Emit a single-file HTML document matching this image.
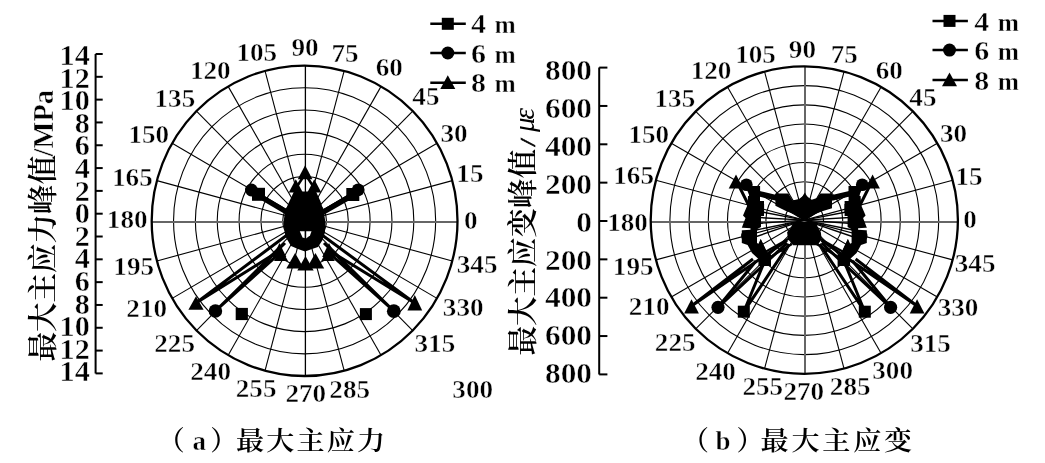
<!DOCTYPE html>
<html><head><meta charset="utf-8"><style>
html,body{margin:0;padding:0;background:#fff;}
svg{display:block;}
</style></head><body>
<svg width="1045" height="463" viewBox="0 0 1045 463">
<rect width="1045" height="463" fill="#fff"/>
<line x1="304.60" y1="220.80" x2="452.29" y2="180.63" stroke="#000" stroke-width="1.1"/>
<line x1="304.60" y1="220.80" x2="437.02" y2="143.20" stroke="#000" stroke-width="1.1"/>
<line x1="304.60" y1="220.80" x2="412.72" y2="111.06" stroke="#000" stroke-width="1.1"/>
<line x1="304.60" y1="220.80" x2="381.05" y2="86.39" stroke="#000" stroke-width="1.1"/>
<line x1="304.60" y1="220.80" x2="344.17" y2="70.89" stroke="#000" stroke-width="1.1"/>
<line x1="304.60" y1="220.80" x2="265.03" y2="70.89" stroke="#000" stroke-width="1.1"/>
<line x1="304.60" y1="220.80" x2="228.15" y2="86.39" stroke="#000" stroke-width="1.1"/>
<line x1="304.60" y1="220.80" x2="196.48" y2="111.06" stroke="#000" stroke-width="1.1"/>
<line x1="304.60" y1="220.80" x2="172.18" y2="143.20" stroke="#000" stroke-width="1.1"/>
<line x1="304.60" y1="220.80" x2="156.91" y2="180.63" stroke="#000" stroke-width="1.1"/>
<line x1="304.60" y1="220.80" x2="156.91" y2="260.97" stroke="#000" stroke-width="1.1"/>
<line x1="304.60" y1="220.80" x2="172.18" y2="298.40" stroke="#000" stroke-width="1.1"/>
<line x1="304.60" y1="220.80" x2="196.48" y2="330.54" stroke="#000" stroke-width="1.1"/>
<line x1="304.60" y1="220.80" x2="228.15" y2="355.21" stroke="#000" stroke-width="1.1"/>
<line x1="304.60" y1="220.80" x2="265.03" y2="370.71" stroke="#000" stroke-width="1.1"/>
<line x1="304.60" y1="220.80" x2="344.17" y2="370.71" stroke="#000" stroke-width="1.1"/>
<line x1="304.60" y1="220.80" x2="381.05" y2="355.21" stroke="#000" stroke-width="1.1"/>
<line x1="304.60" y1="220.80" x2="412.72" y2="330.54" stroke="#000" stroke-width="1.1"/>
<line x1="304.60" y1="220.80" x2="437.02" y2="298.40" stroke="#000" stroke-width="1.1"/>
<line x1="304.60" y1="220.80" x2="452.29" y2="260.97" stroke="#000" stroke-width="1.1"/>
<ellipse cx="304.60" cy="220.80" rx="21.84" ry="22.17" fill="none" stroke="#000" stroke-width="1.1"/>
<ellipse cx="304.60" cy="220.80" rx="43.69" ry="44.34" fill="none" stroke="#000" stroke-width="1.1"/>
<ellipse cx="304.60" cy="220.80" rx="65.53" ry="66.51" fill="none" stroke="#000" stroke-width="1.1"/>
<ellipse cx="304.60" cy="220.80" rx="87.37" ry="88.69" fill="none" stroke="#000" stroke-width="1.1"/>
<ellipse cx="304.60" cy="220.80" rx="109.21" ry="110.86" fill="none" stroke="#000" stroke-width="1.1"/>
<ellipse cx="304.60" cy="220.80" rx="131.06" ry="133.03" fill="none" stroke="#000" stroke-width="1.1"/>
<line x1="151.70" y1="221.9" x2="457.50" y2="221.9" stroke="#666" stroke-width="2"/>
<line x1="305.40" y1="65.60" x2="305.40" y2="376.00" stroke="#000" stroke-width="1.3"/>
<ellipse cx="304.60" cy="220.80" rx="152.90" ry="155.20" fill="none" stroke="#000" stroke-width="2.3"/>
<line x1="804.30" y1="220.10" x2="952.67" y2="180.32" stroke="#000" stroke-width="1.1"/>
<line x1="804.30" y1="220.10" x2="937.32" y2="143.25" stroke="#000" stroke-width="1.1"/>
<line x1="804.30" y1="220.10" x2="912.91" y2="111.42" stroke="#000" stroke-width="1.1"/>
<line x1="804.30" y1="220.10" x2="881.10" y2="86.99" stroke="#000" stroke-width="1.1"/>
<line x1="804.30" y1="220.10" x2="844.05" y2="71.64" stroke="#000" stroke-width="1.1"/>
<line x1="804.30" y1="220.10" x2="764.55" y2="71.64" stroke="#000" stroke-width="1.1"/>
<line x1="804.30" y1="220.10" x2="727.50" y2="86.99" stroke="#000" stroke-width="1.1"/>
<line x1="804.30" y1="220.10" x2="695.69" y2="111.42" stroke="#000" stroke-width="1.1"/>
<line x1="804.30" y1="220.10" x2="671.28" y2="143.25" stroke="#000" stroke-width="1.1"/>
<line x1="804.30" y1="220.10" x2="655.93" y2="180.32" stroke="#000" stroke-width="1.1"/>
<line x1="804.30" y1="220.10" x2="655.93" y2="259.88" stroke="#000" stroke-width="1.1"/>
<line x1="804.30" y1="220.10" x2="671.28" y2="296.95" stroke="#000" stroke-width="1.1"/>
<line x1="804.30" y1="220.10" x2="695.69" y2="328.78" stroke="#000" stroke-width="1.1"/>
<line x1="804.30" y1="220.10" x2="727.50" y2="353.21" stroke="#000" stroke-width="1.1"/>
<line x1="804.30" y1="220.10" x2="764.55" y2="368.56" stroke="#000" stroke-width="1.1"/>
<line x1="804.30" y1="220.10" x2="844.05" y2="368.56" stroke="#000" stroke-width="1.1"/>
<line x1="804.30" y1="220.10" x2="881.10" y2="353.21" stroke="#000" stroke-width="1.1"/>
<line x1="804.30" y1="220.10" x2="912.91" y2="328.78" stroke="#000" stroke-width="1.1"/>
<line x1="804.30" y1="220.10" x2="937.32" y2="296.95" stroke="#000" stroke-width="1.1"/>
<line x1="804.30" y1="220.10" x2="952.67" y2="259.88" stroke="#000" stroke-width="1.1"/>
<ellipse cx="804.30" cy="220.10" rx="19.20" ry="19.21" fill="none" stroke="#000" stroke-width="1.1"/>
<ellipse cx="804.30" cy="220.10" rx="38.40" ry="38.42" fill="none" stroke="#000" stroke-width="1.1"/>
<ellipse cx="804.30" cy="220.10" rx="57.60" ry="57.64" fill="none" stroke="#000" stroke-width="1.1"/>
<ellipse cx="804.30" cy="220.10" rx="76.80" ry="76.85" fill="none" stroke="#000" stroke-width="1.1"/>
<ellipse cx="804.30" cy="220.10" rx="96.00" ry="96.06" fill="none" stroke="#000" stroke-width="1.1"/>
<ellipse cx="804.30" cy="220.10" rx="115.20" ry="115.27" fill="none" stroke="#000" stroke-width="1.1"/>
<ellipse cx="804.30" cy="220.10" rx="134.40" ry="134.49" fill="none" stroke="#000" stroke-width="1.1"/>
<line x1="650.70" y1="222.0" x2="957.90" y2="222.0" stroke="#666" stroke-width="2"/>
<line x1="805.00" y1="66.40" x2="805.00" y2="373.80" stroke="#666" stroke-width="2"/>
<ellipse cx="804.30" cy="220.10" rx="153.60" ry="153.70" fill="none" stroke="#000" stroke-width="2.3"/>
<g font-family="'Liberation Serif','Noto Serif CJK SC',serif" fill="#000" stroke="#fff" stroke-width="0.45">
<text transform="translate(305.1,55.7) scale(1.065,1)" text-anchor="middle" font-size="25.5" font-weight="bold">90</text>
<text transform="translate(256.8,61.0) scale(1.065,1)" text-anchor="middle" font-size="25.5" font-weight="bold">105</text>
<text transform="translate(345.1,61.7) scale(1.065,1)" text-anchor="middle" font-size="25.5" font-weight="bold">75</text>
<text transform="translate(210.3,79.4) scale(1.065,1)" text-anchor="middle" font-size="25.5" font-weight="bold">120</text>
<text transform="translate(389.3,75.9) scale(1.065,1)" text-anchor="middle" font-size="25.5" font-weight="bold">60</text>
<text transform="translate(174.9,107.2) scale(1.065,1)" text-anchor="middle" font-size="25.5" font-weight="bold">135</text>
<text transform="translate(425.9,104.9) scale(1.065,1)" text-anchor="middle" font-size="25.5" font-weight="bold">45</text>
<text transform="translate(148.8,143.0) scale(1.065,1)" text-anchor="middle" font-size="25.5" font-weight="bold">150</text>
<text transform="translate(454.0,142.0) scale(1.065,1)" text-anchor="middle" font-size="25.5" font-weight="bold">30</text>
<text transform="translate(132.4,186.3) scale(1.065,1)" text-anchor="middle" font-size="25.5" font-weight="bold">165</text>
<text transform="translate(469.9,182.4) scale(1.065,1)" text-anchor="middle" font-size="25.5" font-weight="bold">15</text>
<text transform="translate(127.2,228.0) scale(1.065,1)" text-anchor="middle" font-size="25.5" font-weight="bold">180</text>
<text transform="translate(470.8,228.8) scale(1.065,1)" text-anchor="middle" font-size="25.5" font-weight="bold">0</text>
<text transform="translate(133.7,275.2) scale(1.065,1)" text-anchor="middle" font-size="25.5" font-weight="bold">195</text>
<text transform="translate(477.1,272.9) scale(1.065,1)" text-anchor="middle" font-size="25.5" font-weight="bold">345</text>
<text transform="translate(146.7,316.6) scale(1.065,1)" text-anchor="middle" font-size="25.5" font-weight="bold">210</text>
<text transform="translate(463.2,315.6) scale(1.065,1)" text-anchor="middle" font-size="25.5" font-weight="bold">330</text>
<text transform="translate(174.6,352.2) scale(1.065,1)" text-anchor="middle" font-size="25.5" font-weight="bold">225</text>
<text transform="translate(434.9,351.9) scale(1.065,1)" text-anchor="middle" font-size="25.5" font-weight="bold">315</text>
<text transform="translate(210.6,380.0) scale(1.065,1)" text-anchor="middle" font-size="25.5" font-weight="bold">240</text>
<text transform="translate(256.1,396.7) scale(1.065,1)" text-anchor="middle" font-size="25.5" font-weight="bold">255</text>
<text transform="translate(305.8,401.9) scale(1.065,1)" text-anchor="middle" font-size="25.5" font-weight="bold">270</text>
<text transform="translate(349.7,397.8) scale(1.065,1)" text-anchor="middle" font-size="25.5" font-weight="bold">285</text>
<text transform="translate(472.7,398.2) scale(1.065,1)" text-anchor="middle" font-size="25.5" font-weight="bold">300</text>
<text transform="translate(802.4,58.0) scale(1.065,1)" text-anchor="middle" font-size="25.5" font-weight="bold">90</text>
<text transform="translate(755.5,62.6) scale(1.065,1)" text-anchor="middle" font-size="25.5" font-weight="bold">105</text>
<text transform="translate(844.2,63.3) scale(1.065,1)" text-anchor="middle" font-size="25.5" font-weight="bold">75</text>
<text transform="translate(711.0,79.4) scale(1.065,1)" text-anchor="middle" font-size="25.5" font-weight="bold">120</text>
<text transform="translate(889.3,78.7) scale(1.065,1)" text-anchor="middle" font-size="25.5" font-weight="bold">60</text>
<text transform="translate(674.9,107.2) scale(1.065,1)" text-anchor="middle" font-size="25.5" font-weight="bold">135</text>
<text transform="translate(922.9,106.3) scale(1.065,1)" text-anchor="middle" font-size="25.5" font-weight="bold">45</text>
<text transform="translate(648.8,143.0) scale(1.065,1)" text-anchor="middle" font-size="25.5" font-weight="bold">150</text>
<text transform="translate(953.5,142.4) scale(1.065,1)" text-anchor="middle" font-size="25.5" font-weight="bold">30</text>
<text transform="translate(633.6,183.7) scale(1.065,1)" text-anchor="middle" font-size="25.5" font-weight="bold">165</text>
<text transform="translate(969.1,184.6) scale(1.065,1)" text-anchor="middle" font-size="25.5" font-weight="bold">15</text>
<text transform="translate(627.5,230.6) scale(1.065,1)" text-anchor="middle" font-size="25.5" font-weight="bold">180</text>
<text transform="translate(970.1,228.2) scale(1.065,1)" text-anchor="middle" font-size="25.5" font-weight="bold">0</text>
<text transform="translate(633.2,275.2) scale(1.065,1)" text-anchor="middle" font-size="25.5" font-weight="bold">195</text>
<text transform="translate(975.1,272.4) scale(1.065,1)" text-anchor="middle" font-size="25.5" font-weight="bold">345</text>
<text transform="translate(649.2,315.3) scale(1.065,1)" text-anchor="middle" font-size="25.5" font-weight="bold">210</text>
<text transform="translate(958.0,316.4) scale(1.065,1)" text-anchor="middle" font-size="25.5" font-weight="bold">330</text>
<text transform="translate(675.2,351.3) scale(1.065,1)" text-anchor="middle" font-size="25.5" font-weight="bold">225</text>
<text transform="translate(930.5,352.0) scale(1.065,1)" text-anchor="middle" font-size="25.5" font-weight="bold">315</text>
<text transform="translate(715.5,379.8) scale(1.065,1)" text-anchor="middle" font-size="25.5" font-weight="bold">240</text>
<text transform="translate(762.8,395.1) scale(1.065,1)" text-anchor="middle" font-size="25.5" font-weight="bold">255</text>
<text transform="translate(803.8,400.3) scale(1.065,1)" text-anchor="middle" font-size="25.5" font-weight="bold">270</text>
<text transform="translate(850.2,395.1) scale(1.065,1)" text-anchor="middle" font-size="25.5" font-weight="bold">285</text>
<text transform="translate(892.6,378.9) scale(1.065,1)" text-anchor="middle" font-size="25.5" font-weight="bold">300</text>
</g>
<line x1="95.6" y1="54.0" x2="95.6" y2="373.4" stroke="#000" stroke-width="2"/>
<line x1="95.6" y1="54.00" x2="102.69999999999999" y2="54.00" stroke="#000" stroke-width="2"/>
<line x1="95.6" y1="76.81" x2="102.69999999999999" y2="76.81" stroke="#000" stroke-width="2"/>
<line x1="95.6" y1="99.63" x2="102.69999999999999" y2="99.63" stroke="#000" stroke-width="2"/>
<line x1="95.6" y1="122.44" x2="102.69999999999999" y2="122.44" stroke="#000" stroke-width="2"/>
<line x1="95.6" y1="145.26" x2="102.69999999999999" y2="145.26" stroke="#000" stroke-width="2"/>
<line x1="95.6" y1="168.07" x2="102.69999999999999" y2="168.07" stroke="#000" stroke-width="2"/>
<line x1="95.6" y1="190.89" x2="102.69999999999999" y2="190.89" stroke="#000" stroke-width="2"/>
<line x1="95.6" y1="213.70" x2="102.69999999999999" y2="213.70" stroke="#000" stroke-width="2"/>
<line x1="95.6" y1="236.51" x2="102.69999999999999" y2="236.51" stroke="#000" stroke-width="2"/>
<line x1="95.6" y1="259.33" x2="102.69999999999999" y2="259.33" stroke="#000" stroke-width="2"/>
<line x1="95.6" y1="282.14" x2="102.69999999999999" y2="282.14" stroke="#000" stroke-width="2"/>
<line x1="95.6" y1="304.96" x2="102.69999999999999" y2="304.96" stroke="#000" stroke-width="2"/>
<line x1="95.6" y1="327.77" x2="102.69999999999999" y2="327.77" stroke="#000" stroke-width="2"/>
<line x1="95.6" y1="350.59" x2="102.69999999999999" y2="350.59" stroke="#000" stroke-width="2"/>
<line x1="95.6" y1="373.40" x2="102.69999999999999" y2="373.40" stroke="#000" stroke-width="2"/>
<g font-family="'Liberation Serif','Noto Serif CJK SC',serif" font-size="28.5" font-weight="bold" text-anchor="end" stroke="#fff" stroke-width="0.45">
<text transform="translate(89.8,64.9) scale(1.06,1)">14</text>
<text transform="translate(89.8,87.5) scale(1.06,1)">12</text>
<text transform="translate(89.8,110.1) scale(1.06,1)">10</text>
<text transform="translate(89.8,132.7) scale(1.06,1)">8</text>
<text transform="translate(89.8,155.3) scale(1.06,1)">6</text>
<text transform="translate(89.8,177.9) scale(1.06,1)">4</text>
<text transform="translate(89.8,200.5) scale(1.06,1)">2</text>
<text transform="translate(89.8,223.1) scale(1.06,1)">0</text>
<text transform="translate(89.8,245.7) scale(1.06,1)">2</text>
<text transform="translate(89.8,268.3) scale(1.06,1)">4</text>
<text transform="translate(89.8,290.9) scale(1.06,1)">6</text>
<text transform="translate(89.8,313.5) scale(1.06,1)">8</text>
<text transform="translate(89.8,336.1) scale(1.06,1)">10</text>
<text transform="translate(89.8,358.7) scale(1.06,1)">12</text>
<text transform="translate(89.8,381.3) scale(1.06,1)">14</text>
</g>
<line x1="599.2" y1="67.6" x2="599.2" y2="374.4" stroke="#000" stroke-width="2"/>
<line x1="599.2" y1="67.60" x2="607.4000000000001" y2="67.60" stroke="#000" stroke-width="2"/>
<line x1="599.2" y1="105.95" x2="607.4000000000001" y2="105.95" stroke="#000" stroke-width="2"/>
<line x1="599.2" y1="144.30" x2="607.4000000000001" y2="144.30" stroke="#000" stroke-width="2"/>
<line x1="599.2" y1="182.65" x2="607.4000000000001" y2="182.65" stroke="#000" stroke-width="2"/>
<line x1="599.2" y1="221.00" x2="607.4000000000001" y2="221.00" stroke="#000" stroke-width="2"/>
<line x1="599.2" y1="259.35" x2="607.4000000000001" y2="259.35" stroke="#000" stroke-width="2"/>
<line x1="599.2" y1="297.70" x2="607.4000000000001" y2="297.70" stroke="#000" stroke-width="2"/>
<line x1="599.2" y1="336.05" x2="607.4000000000001" y2="336.05" stroke="#000" stroke-width="2"/>
<line x1="599.2" y1="374.40" x2="607.4000000000001" y2="374.40" stroke="#000" stroke-width="2"/>
<g font-family="'Liberation Serif','Noto Serif CJK SC',serif" font-size="28.5" font-weight="bold" text-anchor="end" stroke="#fff" stroke-width="0.45">
<text transform="translate(592.0,79.7) scale(1.1,1)">800</text>
<text transform="translate(592.0,117.7) scale(1.1,1)">600</text>
<text transform="translate(592.0,155.6) scale(1.1,1)">400</text>
<text transform="translate(592.0,193.6) scale(1.1,1)">200</text>
<text transform="translate(592.0,231.5) scale(1.1,1)">0</text>
<text transform="translate(592.0,269.5) scale(1.1,1)">200</text>
<text transform="translate(592.0,307.4) scale(1.1,1)">400</text>
<text transform="translate(592.0,345.4) scale(1.1,1)">600</text>
<text transform="translate(592.0,383.3) scale(1.1,1)">800</text>
</g>
<text transform="translate(53,361.6) rotate(-90)" font-family="'Liberation Serif','Noto Serif CJK SC',serif" font-size="29.5" font-weight="600">最大主应力峰值</text>
<text transform="translate(52.6,156.4) rotate(-90) scale(0.95,1)" font-family="'Liberation Serif','Noto Serif CJK SC',serif" font-size="30" font-weight="bold" stroke="#fff" stroke-width="0.5">/MPa</text>
<text transform="translate(533,355.6) rotate(-90)" font-family="'Liberation Serif','Noto Serif CJK SC',serif" font-size="29.5" font-weight="600">最大主应变峰值</text>
<text transform="translate(535,145.5) rotate(-90)" font-family="'Liberation Serif','Noto Serif CJK SC',serif" font-size="21" font-style="italic" font-weight="bold" stroke="#000" stroke-width="0.6">/</text>
<text transform="translate(534,132) rotate(-90)" font-family="'Liberation Serif','Noto Serif CJK SC',serif" font-size="29" font-style="italic">μ</text>
<text transform="translate(534,119.6) rotate(-90)" font-family="'Liberation Serif','Noto Serif CJK SC',serif" font-size="29" font-style="italic">ε</text>
<line x1="430.3" y1="23.8" x2="465.8" y2="23.8" stroke="#000" stroke-width="2.5"/>
<rect x="441.8" y="17.8" width="12" height="12" fill="#000"/>
<text transform="translate(471.0,33.4) scale(1.06,1)" font-family="'Liberation Serif','Noto Serif CJK SC',serif" font-size="28.3" font-weight="bold" stroke="#fff" stroke-width="0.45">4</text>
<text x="494.5" y="33.4" font-family="'Liberation Serif','Noto Serif CJK SC',serif" font-size="25.5" font-weight="bold" stroke="#fff" stroke-width="0.45">m</text>
<line x1="430.3" y1="53.0" x2="465.8" y2="53.0" stroke="#000" stroke-width="2.5"/>
<circle cx="447.8" cy="53.0" r="6.5" fill="#000"/>
<text transform="translate(471.0,62.6) scale(1.06,1)" font-family="'Liberation Serif','Noto Serif CJK SC',serif" font-size="28.3" font-weight="bold" stroke="#fff" stroke-width="0.45">6</text>
<text x="494.5" y="62.6" font-family="'Liberation Serif','Noto Serif CJK SC',serif" font-size="25.5" font-weight="bold" stroke="#fff" stroke-width="0.45">m</text>
<line x1="430.3" y1="82.8" x2="465.8" y2="82.8" stroke="#000" stroke-width="2.5"/>
<polygon points="447.8,75.3 455.3,89.1 440.3,89.1" fill="#000"/>
<text transform="translate(471.0,92.39999999999999) scale(1.06,1)" font-family="'Liberation Serif','Noto Serif CJK SC',serif" font-size="28.3" font-weight="bold" stroke="#fff" stroke-width="0.45">8</text>
<text x="494.5" y="92.39999999999999" font-family="'Liberation Serif','Noto Serif CJK SC',serif" font-size="25.5" font-weight="bold" stroke="#fff" stroke-width="0.45">m</text>
<line x1="932.5" y1="20.9" x2="967.9" y2="20.9" stroke="#000" stroke-width="2.5"/>
<rect x="943.5" y="14.899999999999999" width="12" height="12" fill="#000"/>
<text transform="translate(974.2,31.099999999999998) scale(1.06,1)" font-family="'Liberation Serif','Noto Serif CJK SC',serif" font-size="28.3" font-weight="bold" stroke="#fff" stroke-width="0.45">4</text>
<text x="997.7" y="31.099999999999998" font-family="'Liberation Serif','Noto Serif CJK SC',serif" font-size="25.5" font-weight="bold" stroke="#fff" stroke-width="0.45">m</text>
<line x1="932.5" y1="50.1" x2="967.9" y2="50.1" stroke="#000" stroke-width="2.5"/>
<circle cx="949.5" cy="50.1" r="6.5" fill="#000"/>
<text transform="translate(974.2,60.3) scale(1.06,1)" font-family="'Liberation Serif','Noto Serif CJK SC',serif" font-size="28.3" font-weight="bold" stroke="#fff" stroke-width="0.45">6</text>
<text x="997.7" y="60.3" font-family="'Liberation Serif','Noto Serif CJK SC',serif" font-size="25.5" font-weight="bold" stroke="#fff" stroke-width="0.45">m</text>
<line x1="932.5" y1="79.9" x2="967.9" y2="79.9" stroke="#000" stroke-width="2.5"/>
<polygon points="949.5,72.4 957.0,86.2 942.0,86.2" fill="#000"/>
<text transform="translate(974.2,90.10000000000001) scale(1.06,1)" font-family="'Liberation Serif','Noto Serif CJK SC',serif" font-size="28.3" font-weight="bold" stroke="#fff" stroke-width="0.45">8</text>
<text x="997.7" y="90.10000000000001" font-family="'Liberation Serif','Noto Serif CJK SC',serif" font-size="25.5" font-weight="bold" stroke="#fff" stroke-width="0.45">m</text>
<g font-size="27" font-weight="bold"><text x="157.8" y="450.2" font-family="'Liberation Serif','Noto Serif CJK SC',serif" font-weight="600">（</text><text x="192.5" y="450.2" font-family="'Liberation Serif','Noto Serif CJK SC',serif" stroke="#fff" stroke-width="0.45">a</text><text x="210.3" y="450.2" font-family="'Liberation Serif','Noto Serif CJK SC',serif" font-weight="600">）</text><text transform="translate(236.0,450.2) scale(1.07,1)" font-size="26.3" font-family="'Liberation Serif','Noto Serif CJK SC',serif" font-weight="600" letter-spacing="2.0">最大主应力</text></g>
<g font-size="27" font-weight="bold"><text x="682.0" y="450.2" font-family="'Liberation Serif','Noto Serif CJK SC',serif" font-weight="600">（</text><text x="715.5" y="450.2" font-family="'Liberation Serif','Noto Serif CJK SC',serif" stroke="#fff" stroke-width="0.45">b</text><text x="736.5" y="450.2" font-family="'Liberation Serif','Noto Serif CJK SC',serif" font-weight="600">）</text><text transform="translate(760.5,450.2) scale(1.07,1)" font-size="26.3" font-family="'Liberation Serif','Noto Serif CJK SC',serif" font-weight="600" letter-spacing="2.6">最大主应变</text></g>
<g fill="#000"><polyline fill="none" stroke="#000" stroke-width="3.2" stroke-linejoin="round" points="251.3,190.0 290.0,213.0"/>
<polyline fill="none" stroke="#000" stroke-width="5.2" stroke-linejoin="round" points="258.6,195.5 290.0,214.0"/>
<polyline fill="none" stroke="#000" stroke-width="3.2" stroke-linejoin="round" points="358.3,190.0 320.0,213.0"/>
<polyline fill="none" stroke="#000" stroke-width="5.2" stroke-linejoin="round" points="352.4,195.5 320.0,214.0"/>
<polyline fill="none" stroke="#000" stroke-width="3" stroke-linejoin="round" points="287.0,235.0 196.0,303.0 279.0,251.0"/>
<polyline fill="none" stroke="#000" stroke-width="3" stroke-linejoin="round" points="285.0,243.0 215.4,311.0 281.0,252.0"/>
<polyline fill="none" stroke="#000" stroke-width="3" stroke-linejoin="round" points="322.0,235.0 414.6,303.0 330.0,251.0"/>
<polyline fill="none" stroke="#000" stroke-width="3" stroke-linejoin="round" points="324.0,243.0 393.8,311.0 328.0,252.0"/>
<polyline fill="none" stroke="#000" stroke-width="2.5" stroke-linejoin="round" points="296.0,188.0 305.1,174.0 314.3,188.0"/>
<polygon points="294.0,191.6 316.0,191.6 320.3,201.0 323.6,210.7 325.5,222.4 324.9,232.7 322.3,240.5 318.0,247.0 312.0,249.0 305.0,251.4 298.0,249.0 291.0,246.0 285.4,236.6 283.4,223.7 284.7,213.3 288.0,204.2"/>
<circle cx="251.4" cy="190.0" r="6.4"/>
<rect x="252.0" y="187.8" width="13" height="13"/>
<circle cx="358.2" cy="189.8" r="6.4"/>
<rect x="346.3" y="188.0" width="13" height="13"/>
<polygon points="196.0,296.2 203.6,309.8 188.4,309.8"/>
<circle cx="215.4" cy="311.0" r="6.8"/>
<rect x="235.7" y="307.9" width="12.2" height="12.2"/>
<polygon points="414.8,295.1 422.2,310.6 407.4,310.6"/>
<circle cx="393.8" cy="311.2" r="6.9"/>
<rect x="359.9" y="308.1" width="12" height="12"/>
<polygon points="305.1,165.3 312.4,179.3 297.8,179.3"/>
<polygon points="295.8,179.3 302.8,192.5 288.8,192.5"/>
<polygon points="314.3,179.3 321.3,192.5 307.3,192.5"/>
<polygon points="279.5,243.0 286.3,257.0 272.7,257.0"/>
<polygon points="281.0,248.5 288.0,261.0 274.0,261.0"/>
<polygon points="295.1,253.0 303.9,268.5 286.3,268.5"/>
<polygon points="305.5,256.0 313.7,270.5 297.3,270.5"/>
<polygon points="315.4,253.0 324.2,268.5 306.6,268.5"/>
<polygon points="329.0,243.0 335.8,257.0 322.2,257.0"/>
<polygon points="328.0,248.5 334.8,261.0 321.2,261.0"/>
<polygon fill="#fff" points="299.8,231.2 311.5,231.2 310,235.5 306,238.5 302.5,237.5"/>
<line x1="305.4" y1="231" x2="305.4" y2="239" stroke="#000" stroke-width="1.6"/></g>
<g fill="#000"><polyline fill="none" stroke="#000" stroke-width="3" stroke-linejoin="round" points="787.0,240.5 691.5,306.0 753.0,259.0"/>
<polyline fill="none" stroke="#000" stroke-width="3" stroke-linejoin="round" points="787.0,243.0 718.0,307.3 756.0,261.0"/>
<polyline fill="none" stroke="#000" stroke-width="3" stroke-linejoin="round" points="789.0,244.0 743.8,311.7 763.0,265.0"/>
<polyline fill="none" stroke="#000" stroke-width="2.2" stroke-linejoin="round" points="790.0,238.0 758.0,256.0"/>
<polyline fill="none" stroke="#000" stroke-width="2.2" stroke-linejoin="round" points="792.0,244.0 762.0,262.0"/>
<polyline fill="none" stroke="#000" stroke-width="1.4" stroke-linejoin="round" points="804.3,220.1 752.0,210.0"/>
<polyline fill="none" stroke="#000" stroke-width="1.4" stroke-linejoin="round" points="804.3,220.1 750.0,217.0"/>
<polyline fill="none" stroke="#000" stroke-width="1.4" stroke-linejoin="round" points="804.3,220.1 750.0,224.0"/>
<polyline fill="none" stroke="#000" stroke-width="1.4" stroke-linejoin="round" points="804.3,220.1 751.0,231.0"/>
<polyline fill="none" stroke="#000" stroke-width="1.4" stroke-linejoin="round" points="804.3,220.1 752.0,238.0"/>
<polyline fill="none" stroke="#000" stroke-width="5.5" stroke-linejoin="round" points="753.5,192.4 777.0,198.0"/>
<polyline fill="none" stroke="#000" stroke-width="3" stroke-linejoin="round" points="737.0,182.0 750.0,208.0"/>
<polyline fill="none" stroke="#000" stroke-width="3" stroke-linejoin="round" points="746.4,184.7 752.0,198.0"/>
<polygon points="748.0,196.0 760.0,196.0 760.0,201.0 764.0,201.0 764.0,216.0 761.0,216.0 761.0,227.0 757.5,229.0 757.0,231.0 757.0,243.0 759.0,244.0 760.7,239.0 767.5,253.0 771.0,254.5 771.0,266.0 758.5,266.0 758.5,259.0 752.0,253.0 747.6,245.0 741.8,243.0 741.8,230.0 745.0,229.0 741.5,228.5 745.5,218.0 743.0,215.5 747.5,205.0"/>
<polygon points="736.0,174.5 743.3,188.5 728.7,188.5"/>
<circle cx="746.4" cy="184.7" r="6.3"/>
<rect x="749.1" y="186.0" width="11" height="11"/>
<rect x="755.1" y="204.0" width="9" height="9"/>
<polygon points="751.0,204.5 758.0,216.0 744.0,216.0"/>
<polygon points="750.0,216.5 757.8,228.0 742.2,228.0"/>
<rect x="750.0" y="215.0" width="10" height="10"/>
<circle cx="747.5" cy="236.0" r="6.4"/>
<rect x="745.5" y="231.0" width="10" height="10"/>
<polygon points="760.7,239.0 767.2,253.0 754.2,253.0"/>
<rect x="758.9" y="254.5" width="11" height="11"/>
<polygon points="691.5,299.2 698.9,313.4 684.1,313.4"/>
<circle cx="718.0" cy="307.3" r="6.6"/>
<rect x="737.8" y="305.7" width="12" height="12"/>
<polygon fill="#fff" points="739.0,227.6 750.5,228.2 750.5,229.8 739.0,230.4"/>
<polyline fill="none" stroke="#000" stroke-width="3" stroke-linejoin="round" points="821.6,240.5 917.1,306.0 855.6,259.0"/>
<polyline fill="none" stroke="#000" stroke-width="3" stroke-linejoin="round" points="821.6,243.0 890.6,307.3 852.6,261.0"/>
<polyline fill="none" stroke="#000" stroke-width="3" stroke-linejoin="round" points="819.6,244.0 864.8,311.7 845.6,265.0"/>
<polyline fill="none" stroke="#000" stroke-width="2.2" stroke-linejoin="round" points="818.6,238.0 850.6,256.0"/>
<polyline fill="none" stroke="#000" stroke-width="2.2" stroke-linejoin="round" points="816.6,244.0 846.6,262.0"/>
<polyline fill="none" stroke="#000" stroke-width="1.4" stroke-linejoin="round" points="804.3,220.1 856.6,210.0"/>
<polyline fill="none" stroke="#000" stroke-width="1.4" stroke-linejoin="round" points="804.3,220.1 858.6,217.0"/>
<polyline fill="none" stroke="#000" stroke-width="1.4" stroke-linejoin="round" points="804.3,220.1 858.6,224.0"/>
<polyline fill="none" stroke="#000" stroke-width="1.4" stroke-linejoin="round" points="804.3,220.1 857.6,231.0"/>
<polyline fill="none" stroke="#000" stroke-width="1.4" stroke-linejoin="round" points="804.3,220.1 856.6,238.0"/>
<polyline fill="none" stroke="#000" stroke-width="5.5" stroke-linejoin="round" points="855.1,192.4 831.6,198.0"/>
<polyline fill="none" stroke="#000" stroke-width="3" stroke-linejoin="round" points="871.6,182.0 858.6,208.0"/>
<polyline fill="none" stroke="#000" stroke-width="3" stroke-linejoin="round" points="862.2,184.7 856.6,198.0"/>
<polygon points="860.6,196.0 848.6,196.0 848.6,201.0 844.6,201.0 844.6,216.0 847.6,216.0 847.6,227.0 851.1,229.0 851.6,231.0 851.6,243.0 849.6,244.0 847.9,239.0 841.1,253.0 837.6,254.5 837.6,266.0 850.1,266.0 850.1,259.0 856.6,253.0 861.0,245.0 866.8,243.0 866.8,230.0 863.6,229.0 867.1,228.5 863.1,218.0 865.6,215.5 861.1,205.0"/>
<polygon points="872.6,174.5 879.9,188.5 865.3,188.5"/>
<circle cx="862.2" cy="184.7" r="6.3"/>
<rect x="848.5" y="186.0" width="11" height="11"/>
<rect x="844.5" y="204.0" width="9" height="9"/>
<polygon points="857.6,204.5 864.6,216.0 850.6,216.0"/>
<polygon points="858.6,216.5 866.4,228.0 850.8,228.0"/>
<rect x="848.6" y="215.0" width="10" height="10"/>
<circle cx="861.1" cy="236.0" r="6.4"/>
<rect x="853.1" y="231.0" width="10" height="10"/>
<polygon points="847.9,239.0 854.4,253.0 841.4,253.0"/>
<rect x="838.7" y="254.5" width="11" height="11"/>
<polygon points="917.1,299.2 924.5,313.4 909.7,313.4"/>
<circle cx="890.6" cy="307.3" r="6.6"/>
<rect x="858.8" y="305.7" width="12" height="12"/>
<polygon fill="#fff" points="869.6,227.6 858.1,228.2 858.1,229.8 869.6,230.4"/>
<polygon points="775.4,193.6 788.3,193.6 792.6,200.6 799.0,199.0 804.7,194.8 811.7,199.7 817.0,198.0 820.3,193.6 831.5,193.6 832.0,208.3 823.0,211.0 815.0,214.0 807.0,219.6 802.0,219.6 794.0,214.0 786.0,211.0 775.4,205.7"/>
<polygon points="804.8,192.5 811.8,204.0 797.8,204.0"/>
<rect x="776.0" y="194.0" width="12" height="12"/>
<rect x="820.0" y="194.0" width="12" height="12"/>
<circle cx="795.0" cy="206.0" r="6"/>
<circle cx="814.0" cy="206.0" r="6"/>
<polygon points="793.6,221.9 815.6,221.9 818.2,228.0 820.8,232.3 821.7,239.2 817.4,245.2 793.2,245.2 788.0,239.2 787.1,232.3 790.6,228.0"/></g>
</svg></body></html>
